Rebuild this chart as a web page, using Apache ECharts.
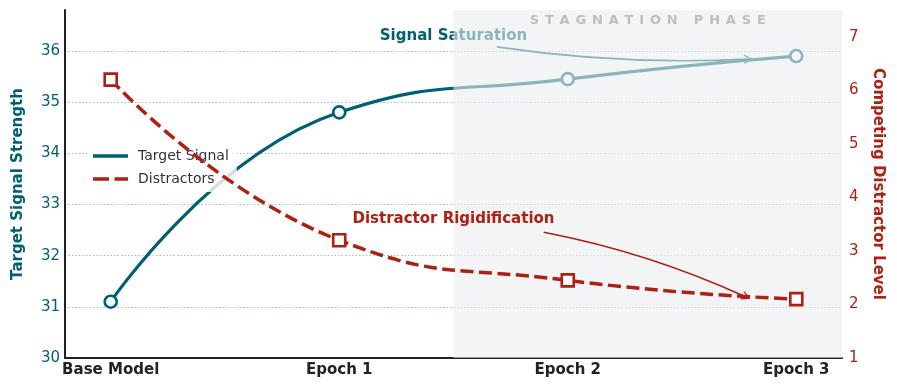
<!DOCTYPE html>
<html><head><meta charset="utf-8">
<script src="https://cdn.jsdelivr.net/npm/echarts@6/dist/echarts.min.js"></script>
<style>html,body{margin:0;padding:0;background:#fff}#c{width:897px;height:389px}</style>
</head><body><div id="c"></div>
<script>
const categories = ['Base Model', 'Epoch 1', 'Epoch 2', 'Epoch 3'];
const targetSignal = [31.1, 34.8, 35.45, 35.9];
const distractors = [6.2, 3.2, 2.45, 2.1];
const leftRange = [30, 36.8];
const rightRange = [1, 7.5];
const xRange = [-0.2, 3.2];
const phaseStart = 1.5;
const phaseLabel = 'STAGNATION PHASE';
const saturationText = 'Signal Saturation';
const saturationAt = [1.5, 36.29];
const saturationFrom = [1.69, 36.08];
const saturationTo = [2.79, 35.84];
const rigidText = 'Distractor Rigidification';
const rigidAt = [1.5, 3.6];
const rigidFrom = [1.895, 3.35];
const rigidTo = [2.78, 2.14];

const T = '#005f73', R = '#ae2012', F = 'DejaVu Sans';
const chevron = 'path://M0,0 L6,8.6 L4.8,9.6 L0,2.6 L-4.8,9.6 L-6,8.6 Z';
const solidIcon = 'path://M0,0h35v3.5h-35z';
const dashIcon = 'path://M0,0h16v3.5h-16z M21.5,0h13.5v3.5h-13.5z';
const spaced = phaseLabel.split('').join(' \u200A');

const chart = echarts.init(document.getElementById('c'), null, {renderer: 'canvas'});
chart.setOption({
  animation: false,
  textStyle: {fontFamily: F},
  grid: {left: 65, right: 55, top: 10, bottom: 31},
  legend: {
    data: [{name: 'Target Signal', icon: solidIcon}, {name: 'Distractors', icon: dashIcon}],
    orient: 'vertical', left: 88, top: 143,
    padding: [5, 8, 5, 5], itemWidth: 35, itemHeight: 3.5, itemGap: 7, z: 4,
    backgroundColor: 'rgba(255,255,255,0.8)',
    textStyle: {fontSize: 14, color: '#333', fontFamily: F, padding: [0, 0, 0, 5], lineHeight: 16}
  },
  xAxis: {
    type: 'value', min: xRange[0], max: xRange[1],
    axisLine: {show: true, onZero: false, lineStyle: {color: '#222', width: 2}},
    axisTick: {show: false}, splitLine: {show: false},
    axisLabel: {customValues: categories.map((c, i) => i), formatter: v => categories[Math.round(v)],
      fontSize: 15, fontWeight: 'bold', color: '#222', margin: 5, fontFamily: F}
  },
  yAxis: [{
    type: 'value', min: leftRange[0], max: leftRange[1], interval: 1, position: 'left',
    name: 'Target Signal Strength', nameLocation: 'middle', nameGap: 39,
    nameTextStyle: {fontSize: 15, fontWeight: 'bold', color: T, fontFamily: F},
    axisLine: {show: true, onZero: false, lineStyle: {color: '#222', width: 2}}, axisTick: {show: false},
    axisLabel: {showMaxLabel: false, fontSize: 15, color: T, margin: 5, fontFamily: F},
    splitLine: {show: true, showMaxLine: false, showMinLine: false, lineStyle: {color: '#9dbfc8', type: [1.5, 2], width: 1}}
  }, {
    type: 'value', min: rightRange[0], max: rightRange[1], interval: 1, position: 'right',
    name: 'Competing Distractor Level', nameLocation: 'middle', nameGap: 28, nameRotate: -90,
    nameTextStyle: {fontSize: 15, fontWeight: 'bold', color: R, fontFamily: F},
    axisLine: {show: false, onZero: false}, axisTick: {show: false}, splitLine: {show: false},
    axisLabel: {showMaxLabel: false, fontSize: 15, color: R, margin: 7, fontFamily: F}
  }],
  series: [
    {name: 'Target Signal', type: 'line', data: [], symbol: 'none', color: T, lineStyle: {color: T, width: 3.2}},
    {name: 'Distractors', type: 'line', data: [], symbol: 'none', color: R, lineStyle: {color: R, width: 3.5}},
    {
      name: 'targetLine', type: 'line', yAxisIndex: 0, z: 2, smooth: 0.5,
      data: targetSignal.map((v, i) => [i, v]),
      symbol: 'circle', symbolSize: 12, color: T,
      lineStyle: {color: T, width: 3.2},
      itemStyle: {color: '#fff', borderColor: T, borderWidth: 2.6},
      markArea: {
        silent: true, z: 3,
        itemStyle: {color: 'rgba(233,236,239,0.6)'},
        label: {show: true, position: 'insideTop', distance: 4, formatter: spaced,
          color: '#bcbec0', fontSize: 13, fontWeight: 'bold', fontFamily: F},
        data: [[{xAxis: phaseStart}, {xAxis: xRange[1]}]]
      },
      markPoint: {
        silent: true, z: 2, symbol: 'circle', symbolSize: 1, itemStyle: {color: 'rgba(0,0,0,0)'},
        label: {show: true, position: 'inside', formatter: saturationText, color: T, fontSize: 15, fontWeight: 'bold', fontFamily: F},
        data: [{coord: saturationAt}]
      }
    },
    {
      name: 'saturationArrow', type: 'lines', coordinateSystem: 'cartesian2d', xAxisIndex: 0, yAxisIndex: 0,
      z: 2, silent: true, symbol: ['none', chevron], symbolSize: [10, 9],
      lineStyle: {color: T, width: 1.6, opacity: 1, curveness: -0.05},
      data: [{coords: [saturationFrom, saturationTo]}]
    },
    {
      name: 'distractorLine', type: 'line', yAxisIndex: 1, z: 6, smooth: 0.5,
      data: distractors.map((v, i) => [i, v]),
      symbol: 'rect', symbolSize: 12, color: R,
      lineStyle: {color: R, width: 3.5, type: [13, 5.5]},
      itemStyle: {color: '#fff', borderColor: R, borderWidth: 2.6},
      markPoint: {
        silent: true, z: 7, symbol: 'circle', symbolSize: 1, itemStyle: {color: 'rgba(0,0,0,0)'},
        label: {show: true, position: 'inside', formatter: rigidText, color: R, fontSize: 15, fontWeight: 'bold', fontFamily: F},
        data: [{coord: rigidAt}]
      }
    },
    {
      name: 'rigidArrow', type: 'lines', coordinateSystem: 'cartesian2d', xAxisIndex: 0, yAxisIndex: 1,
      z: 6, silent: true, symbol: ['none', chevron], symbolSize: [10, 9],
      lineStyle: {color: R, width: 1.6, opacity: 1, curveness: 0.06},
      data: [{coords: [rigidFrom, rigidTo]}]
    }
  ]
});
</script></body></html>
